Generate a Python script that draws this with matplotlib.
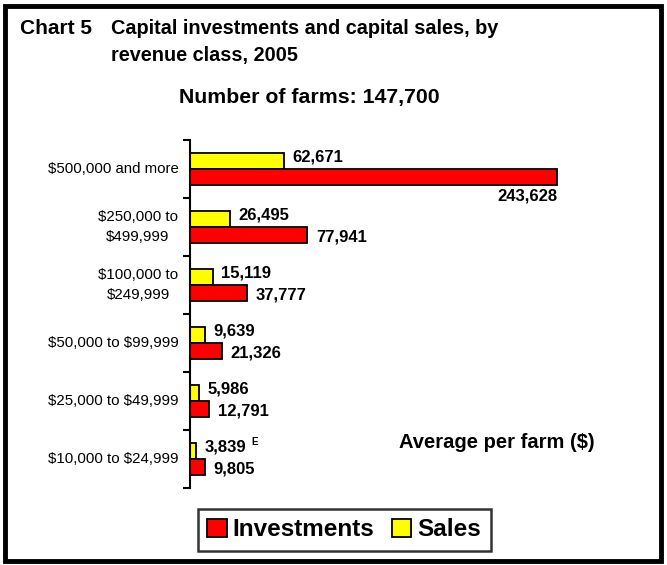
import matplotlib
matplotlib.use("Agg")
import matplotlib.pyplot as plt
from matplotlib.patches import Rectangle, Patch

plt.rcParams["font.family"] = ["Liberation Sans", "DejaVu Sans"]
plt.rcParams["text.parse_math"] = False

# data, bottom to top
classes = ["$10,000 to $24,999", "$25,000 to $49,999", "$50,000 to $99,999",
           "$100,000 to\n$249,999", "$250,000 to\n$499,999", "$500,000 and more"]
investments = [9805, 12791, 21326, 37777, 77941, 243628]
sales = [3839, 5986, 9639, 15119, 26495, 62671]
sales_notes = ["E", "", "", "", "", ""]

W, H = 667, 565
fig = plt.figure(figsize=(W / 100, H / 100), dpi=100)

# outer frame
fig.patches.append(Rectangle((5 / W, 4 / H), 656 / W, 555 / H, transform=fig.transFigure,
                             fill=False, edgecolor="black", lw=3.5))

x0, x1 = 190, 612
y_top, y_bot = 140, 488
ax = fig.add_axes([x0 / W, 1 - y_bot / H, (x1 - x0) / W, (y_bot - y_top) / H])
xmax = 243628 * (x1 - x0) / (557 - x0)

h = 0.28
ys = list(range(len(classes)))
ax.barh([y + h / 2 for y in ys], sales, height=h, color="#ffff00", edgecolor="black", lw=1.3)
ax.barh([y - h / 2 for y in ys], investments, height=h, color="#ff0000", edgecolor="black", lw=1.3)

ax.set_xlim(0, xmax)
ax.set_ylim(-0.5, len(classes) - 0.5)
for s in ["top", "right", "bottom"]:
    ax.spines[s].set_visible(False)
ax.spines["left"].set_linewidth(1.5)
ax.set_xticks([])
ax.set_yticks([y - 0.5 for y in range(len(classes) + 1)])
ax.set_yticklabels([])
ax.tick_params(axis="y", direction="out", length=5, width=1.5)

ytrans = ax.get_yaxis_transform()
for y, lab in zip(ys, classes):
    if "\n" in lab:
        ax.text(-52 / (x1 - x0), y, lab, transform=ytrans, ha="center",
                va="center", fontsize=10.8, linespacing=1.5)
    else:
        ax.text(-11 / (x1 - x0), y, lab, transform=ytrans, ha="right",
                va="center", fontsize=10.8)

pad = xmax * 0.02
for y, v, note in zip(ys, sales, sales_notes):
    ax.text(v + pad, y + h / 2 + 0.06, f"{v:,}", ha="left", va="center",
            fontsize=12, fontweight="bold")
    if note:
        ax.annotate(note, (v + pad, y + h / 2 + 0.06), xytext=(34, 4), textcoords="offset points",
                    fontsize=7, fontweight="bold", va="center")
for y, v in zip(ys, investments):
    if v == max(investments):
        ax.text(v, y - h - 0.19, f"{v:,}", ha="right", va="center",
                fontsize=12, fontweight="bold")
    else:
        ax.text(v + pad, y - h / 2 - 0.04, f"{v:,}", ha="left", va="center",
                fontsize=12, fontweight="bold")

fig.text(20 / W, 1 - 28 / H, "Chart 5", fontsize=15, fontweight="bold", va="center")
fig.text(111 / W, 1 - 28 / H, "Capital investments and capital sales, by", fontsize=14.3,
         fontweight="bold", va="center")
fig.text(111 / W, 1 - 55 / H, "revenue class, 2005", fontsize=14.3,
         fontweight="bold", va="center")
fig.text(309 / W, 1 - 98 / H, "Number of farms: 147,700", fontsize=15.3,
         fontweight="bold", va="center", ha="center")
fig.text(497 / W, 1 - 442 / H, "Average per farm ($)", fontsize=14.5,
         fontweight="bold", va="center", ha="center")

handles = [Patch(facecolor="#ff0000", edgecolor="black", lw=1.3),
           Patch(facecolor="#ffff00", edgecolor="black", lw=1.3)]
leg = fig.legend(handles, ["Investments", "Sales"], loc="center",
                 bbox_to_anchor=(344 / W, 1 - 530 / H), ncol=2, frameon=True,
                 fancybox=False, edgecolor="black", handlelength=0.8, handleheight=0.8,
                 handletextpad=0.25, columnspacing=0.7, borderpad=0.4,
                 prop={"size": 17.5, "weight": "bold"})
leg.get_frame().set_linewidth(1.8)

fig.savefig("out.png", dpi=100)
